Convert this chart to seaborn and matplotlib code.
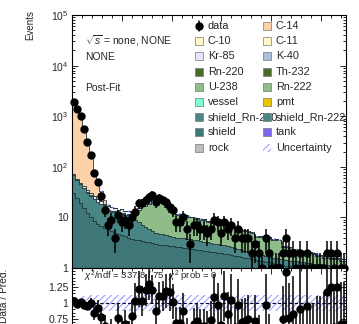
import numpy as np
import pandas as pd
import matplotlib
matplotlib.use("Agg")
import matplotlib.pyplot as plt
import seaborn as sns
from matplotlib.patches import Rectangle
from matplotlib.lines import Line2D
from matplotlib.ticker import LogLocator, FixedLocator, FixedFormatter, NullFormatter, MultipleLocator

# ---------------- data ----------------
e_min, e_max, n_bins = 0.0, 2.75, 80

data_counts = [1950, 1380, 1020, 560, 305, 170, 74, 49, 26, 14,
               7, 9, 4, 11, 8, 9, 7, 10, 13, 19,
               19, 22, 25, 28, 20, 24, 22, 20, 16, 14,
               8, 8, 10, 6, 3, 7, 7, 6, 6, 5,
               6, 9, 8, 5, 8, 6, 7, 4, 6, 4,
               4, 4, 2, 3, 2, 1, 4, 2, 1, 1,
               1, 2, 4, 2, 2, 1, 2, 1, 2, 1,
               1, 1, 1, 1, 2, 2, 1, 2, 1, 1]

c14 = [1830, 1340, 950, 540, 285, 140, 62, 30, 12, 3,
       1, 0.3, 0, 0, 0, 0, 0, 0, 0, 0,
       0, 0, 0, 0, 0, 0, 0, 0, 0, 0,
       0, 0, 0, 0, 0, 0, 0, 0, 0, 0,
       0, 0, 0, 0, 0, 0, 0, 0, 0, 0,
       0, 0, 0, 0, 0, 0, 0, 0, 0, 0,
       0, 0, 0, 0, 0, 0, 0, 0, 0, 0,
       0, 0, 0, 0, 0, 0, 0, 0, 0, 0]

kr85 = [3, 3, 3, 3, 3, 3, 3, 3, 3, 2.5,
        2.5, 2.5, 2, 2, 2, 2, 2, 1.8, 1.6, 1.5,
        1.4, 1.3, 1.2, 1.1, 1.0, 0.9, 0.8, 0.8, 0.7, 0.7,
        0.6, 0.6, 0.5, 0.5, 0.4, 0.4, 0.35, 0.3, 0.3, 0.3,
        0.25, 0.25, 0.2, 0.2, 0.2, 0.2, 0.15, 0.15, 0.15, 0.15,
        0.1, 0.1, 0.1, 0.1, 0.1, 0.1, 0.1, 0.1, 0.1, 0.1,
        0.1, 0.1, 0.1, 0.1, 0.1, 0.1, 0.1, 0.1, 0.1, 0.1,
        0.1, 0.1, 0.1, 0.1, 0.1, 0.1, 0.1, 0.1, 0.1, 0.1]

u238 = [0.3, 0.3, 0.3, 0.3, 0.3, 0.3, 0.3, 0.3, 0.3, 0.3,
        0.3, 0.3, 0.3, 0.3, 0.4, 0.4, 0.5, 0.8, 2, 6,
        10, 10.5, 12, 16.5, 17, 16, 14.5, 11.6, 8.8, 8.9,
        7, 7.1, 7, 6.7, 6.3, 6.4, 6, 5.6, 5.7, 4.8,
        4.9, 5, 5, 4.6, 4.2, 4.3, 3.9, 3.7, 3.6, 3.2,
        3.3, 3.1, 3, 2.2, 2.3, 2.3, 2.3, 2.3, 2, 2,
        2, 1.1, 1.15, 1.1, 0.9, 0.9, 0.8, 0.8, 0.75, 0.75,
        0.7, 0.5, 0.5, 0.45, 0.45, 0.4, 0.4, 0.4, 0.35, 0.35]

shield_rn222 = [40, 31, 26, 23, 19, 17, 14.5, 12.5, 11.2, 9.8,
                8.2, 7.6, 8.0, 7.3, 7.6, 6.8, 7.0, 6.2, 5.4, 4.5,
                3.6, 3.2, 2.8, 2.4, 2.0, 1.9, 1.75, 1.6, 1.45, 1.4,
                1.4, 1.35, 1.4, 1.35, 1.3, 1.25, 1.2, 1.15, 1.1, 1.05,
                1.0, 0.95, 1.0, 0.95, 0.9, 0.85, 0.8, 0.75, 0.7, 0.65,
                0.6, 0.55, 0.5, 0.45, 0.4, 0.45, 0.4, 0.4, 0.35, 0.4,
                0.3, 0.35, 0.35, 0.3, 0.35, 0.35, 0.3, 0.35, 0.3, 0.35,
                0.3, 0.3, 0.35, 0.3, 0.35, 0.3, 0.3, 0.35, 0.3, 0.35]

shield = [30, 24, 19, 15, 12, 10, 8.5, 7.5, 6.8, 6.2,
          5.8, 5.4, 5.0, 4.7, 4.4, 4.2, 4.0, 3.8, 3.6, 3.5,
          3.4, 3.3, 3.2, 3.1, 3.0, 2.9, 2.85, 2.8, 2.75, 2.7,
          2.6, 2.55, 2.5, 2.45, 2.4, 2.35, 2.3, 2.25, 2.2, 2.15,
          2.1, 2.05, 2.0, 1.95, 1.9, 1.85, 1.8, 1.75, 1.7, 1.65,
          1.6, 1.55, 1.5, 1.45, 1.4, 1.35, 1.3, 1.3, 1.25, 1.2,
          1.2, 1.15, 1.1, 1.1, 1.05, 1.0, 1.0, 0.95, 0.95, 0.9,
          0.9, 0.9, 0.85, 0.85, 0.8, 0.8, 0.8, 0.75, 0.75, 0.7]

unc_rel = [0.10, 0.10, 0.11, 0.11, 0.12, 0.12, 0.12, 0.13, 0.13, 0.13,
           0.13, 0.13, 0.12, 0.12, 0.12, 0.12, 0.12, 0.12, 0.12, 0.12,
           0.12, 0.12, 0.12, 0.12, 0.12, 0.12, 0.12, 0.12, 0.12, 0.12,
           0.12, 0.12, 0.12, 0.12, 0.12, 0.12, 0.12, 0.12, 0.12, 0.12,
           0.12, 0.12, 0.12, 0.12, 0.12, 0.12, 0.12, 0.12, 0.12, 0.12,
           0.12, 0.12, 0.12, 0.12, 0.12, 0.12, 0.12, 0.12, 0.12, 0.12,
           0.12, 0.12, 0.12, 0.12, 0.12, 0.12, 0.12, 0.12, 0.12, 0.12,
           0.12, 0.12, 0.12, 0.12, 0.12, 0.12, 0.12, 0.12, 0.12, 0.12]

col1_names = ["data", "C-10", "Kr-85", "Rn-220", "U-238", "vessel",
              "shield_Rn-220", "shield", "rock"]
col2_names = ["C-14", "C-11", "K-40", "Th-232", "Rn-222", "pmt",
              "shield_Rn-222", "tank", "Uncertainty"]

info_lines = [r"$\sqrt{s}$ = none, NONE", "NONE", "Post-Fit"]
chi2_text = r"$\chi^{2}$/ndf = 337.8 / 75  $\chi^{2}$ prob = 0"

colors = {
    "C-14": "#fdd2aa", "C-10": "#fff7c8", "C-11": "#fff7c8",
    "Kr-85": "#e6e6fa", "K-40": "#a9bfd9", "Rn-220": "#4d6b28",
    "Th-232": "#4d6b28", "U-238": "#8fbd8a", "Rn-222": "#8fbd8a",
    "vessel": "#7fffd4", "pmt": "#e9c400", "shield_Rn-220": "#4b8687",
    "shield_Rn-222": "#4b8687", "shield": "#3f7677", "tank": "#7b68ee",
    "rock": "#bdbdbd",
}
hatch_color = "#9d9dff"

# ---------------- style ----------------
sns.set_style("ticks")
plt.rcParams["font.family"] = ["Liberation Sans", "DejaVu Sans"]
plt.rcParams["mathtext.fontset"] = "custom"
plt.rcParams["mathtext.rm"] = "Liberation Sans"
plt.rcParams["mathtext.it"] = "Liberation Sans:italic"
plt.rcParams["hatch.linewidth"] = 0.8

W, H = 359, 324
fig = plt.figure(figsize=(W / 100, H / 100), dpi=100)


def fx(x):
    return x / W


def fy(y):
    return 1 - y / H


ax = fig.add_axes([fx(72), fy(268), fx(346) - fx(72), fy(15) - fy(268)])
axr = fig.add_axes([fx(72), fy(338), fx(346) - fx(72), fy(268) - fy(338)])

edges = np.linspace(e_min, e_max, n_bins + 1)
centers = 0.5 * (edges[:-1] + edges[1:])

comps = {"C-14": c14, "Kr-85": kr85, "U-238": u238,
         "shield_Rn-222": shield_rn222, "shield": shield}
rows = []
for name, vals in comps.items():
    for c, v in zip(centers, vals):
        rows.append({"E": c, "w": v, "comp": name})
df = pd.DataFrame(rows)
hue_order = ["C-14", "Kr-85", "U-238", "shield_Rn-222", "shield"]  # top -> bottom

ax.set_yscale("log")
sns.histplot(data=df, x="E", weights="w", hue="comp", hue_order=hue_order,
             multiple="stack", bins=n_bins, binrange=(e_min, e_max), element="step",
             palette={k: colors[k] for k in hue_order}, alpha=1,
             edgecolor="#1f3a3a", linewidth=0.6, legend=False, ax=ax)

total = (np.array(c14) + np.array(kr85) + np.array(u238)
         + np.array(shield_rn222) + np.array(shield))
unc = np.array(unc_rel)
tot_ext = np.append(total, total[-1])
unc_ext = np.append(unc, unc[-1])
ax.fill_between(edges, tot_ext * (1 - unc_ext * 0.3), tot_ext * (1 + unc_ext * 0.3),
                step="post", facecolor="none", edgecolor=hatch_color,
                hatch="/////", linewidth=0, zorder=3)

d = np.array(data_counts, dtype=float)
err = np.sqrt(d)
ax.errorbar(centers, d, yerr=[np.minimum(err, d - 1e-3), err], fmt="o",
            color="black", ms=5, elinewidth=1.1, capsize=0, zorder=5,
            clip_on=False)

ax.set_xlim(e_min, e_max)
ax.set_ylim(1, 1e5)
ax.set_xlabel("")
ax.set_ylabel("")
ax.yaxis.set_major_locator(FixedLocator([1, 10, 100, 1e3, 1e4, 1e5]))
ax.yaxis.set_major_formatter(FixedFormatter(["1", "10", r"$10^{2}$", r"$10^{3}$",
                                             r"$10^{4}$", r"$10^{5}$"]))
ax.yaxis.set_minor_locator(LogLocator(base=10, subs=np.arange(2, 10), numticks=20))
ax.yaxis.set_minor_formatter(NullFormatter())
ax.xaxis.set_major_locator(MultipleLocator(0.5))
ax.xaxis.set_minor_locator(MultipleLocator(0.1))
ax.tick_params(axis="x", labelbottom=False)

# ratio panel
ratio = d / total
rerr = err / total
axr.fill_between(edges, 1 - unc_ext, 1 + unc_ext, step="post", facecolor="none",
                 edgecolor=hatch_color, hatch="/////", linewidth=0, zorder=1)
axr.axhline(1, color="#000033", lw=0.8, ls=(0, (3, 2)), zorder=2)
axr.text(fx(84), fy(276), chi2_text, fontsize=6.8, ha="left", va="center",
         transform=fig.transFigure, zorder=3)
axr.errorbar(centers, ratio, yerr=rerr, fmt="o", color="black", ms=5,
             elinewidth=1.1, capsize=0, zorder=4)
hi = ratio > 1.55
axr.plot(centers[hi], np.full(hi.sum(), 1.49), ls="none", marker="^", ms=6,
         mfc="white", mec="#5555ff", mew=1.0, zorder=5)
axr.set_xlim(e_min, e_max)
axr.set_ylim(0.45, 1.55)
axr.yaxis.set_major_locator(FixedLocator([0.75, 1.0, 1.25]))
axr.yaxis.set_major_formatter(FixedFormatter(["0.75", "1", "1.25"]))
axr.yaxis.set_minor_locator(MultipleLocator(0.05))
axr.xaxis.set_major_locator(MultipleLocator(0.5))
axr.xaxis.set_minor_locator(MultipleLocator(0.1))
axr.tick_params(axis="x", labelbottom=False)

for a in (ax, axr):
    for s in a.spines.values():
        s.set_linewidth(0.8)
        s.set_color("black")
        s.set_visible(True)
    a.tick_params(which="both", direction="in", top=True, right=True,
                  labelsize=7.5, pad=2.5, width=0.7)
    a.tick_params(which="major", length=4.5)
    a.tick_params(which="minor", length=2.3)

# axis titles
fig.text(fx(30), fy(10), "Events", rotation=90, ha="center", va="top", fontsize=7)
fig.text(fx(4), fy(323), "Data / Pred.", rotation=90, ha="center", va="bottom",
         fontsize=7.3)

# info text
for txt, yy in zip(info_lines, [41, 57, 88]):
    fig.text(fx(85), fy(yy), txt, fontsize=7.4, ha="left", va="center")

# legend (drawn manually, ROOT style)
row_y = [26 + 15.2 * i for i in range(9)]
box = 8
for col, (bx, tx, names) in enumerate([(195, 208, col1_names), (263, 276, col2_names)]):
    for name, yy in zip(names, row_y):
        if name == "data":
            fig.add_artist(Line2D([fx(bx + 4), fx(bx + 4)], [fy(yy - 5), fy(yy + 5)],
                                  color="black", lw=1.1, transform=fig.transFigure))
            fig.add_artist(Line2D([fx(bx + 4)], [fy(yy)], marker="o", ms=5,
                                  color="black", transform=fig.transFigure))
        elif name == "Uncertainty":
            fig.add_artist(Rectangle((fx(bx), fy(yy + box / 2)), fx(box), box / H,
                                     facecolor="none", edgecolor=hatch_color,
                                     hatch="/////", lw=0, transform=fig.transFigure,
                                     zorder=4))
        else:
            fig.add_artist(Rectangle((fx(bx), fy(yy + box / 2)), fx(box), box / H,
                                     facecolor=colors[name], edgecolor="#777777",
                                     lw=0.5, transform=fig.transFigure, zorder=4))
        fig.text(fx(tx), fy(yy), name, fontsize=7.8, ha="left", va="center",
                 zorder=3)

fig.savefig("out.png", dpi=100)
